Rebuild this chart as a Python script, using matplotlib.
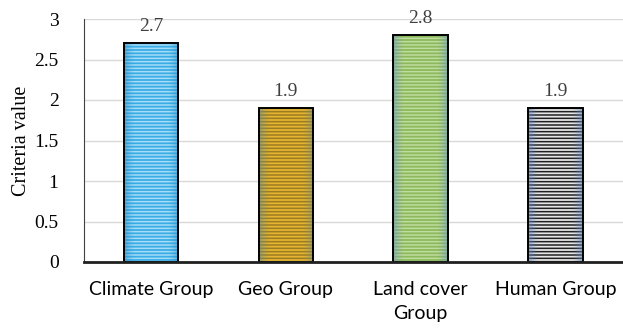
import matplotlib
matplotlib.use("Agg")
import matplotlib.pyplot as plt
import numpy as np
from matplotlib.colors import to_rgb

groups = ["Climate Group", "Geo Group", "Land cover\nGroup", "Human Group"]
values = [2.7, 1.9, 2.8, 1.9]
base_colors = ["#3AADE6", "#E4B432", "#8CB95C", "#E6E6E6"]
stripe_colors = ["#A6DCF7", "#9C7C1E", "#BFDD9E", "#202020"]
edge_tints = ["#2F8FC8", "#6E8C88", "#7096B8", "#5F86BE"]

plt.rcParams["hatch.linewidth"] = 1.1

fig = plt.figure(figsize=(6.23, 3.34), dpi=100)
ax = fig.add_axes([83.5 / 623, 1 - 262 / 334, (623 - 83.5) / 623, (262 - 19) / 334])

x = np.arange(len(groups))
w = 0.405
# fill + stripes, then a separate black outline on top
bars = ax.bar(x, values, w, color=base_colors, edgecolor=stripe_colors,
              hatch="-----", linewidth=0, zorder=2)
for b, sc in zip(bars, stripe_colors):
    b.set_edgecolor(sc)

# soft tint towards the left/right edge of each bar
for b, tint in zip(bars, edge_tints):
    r, g, bl = to_rgb(tint)
    t = np.linspace(-1, 1, 60)
    alpha = np.clip((np.abs(t) - 0.6) / 0.4, 0, 1) ** 1.5 * 0.65
    img = np.zeros((1, 60, 4))
    img[..., 0], img[..., 1], img[..., 2] = r, g, bl
    img[..., 3] = alpha
    x0, y0 = b.get_x(), b.get_y()
    im = ax.imshow(img, extent=[x0, x0 + b.get_width(), y0, y0 + b.get_height()],
                   aspect="auto", zorder=3, interpolation="bilinear")
    im.set_clip_path(b)

ax.bar(x, values, w, fill=False, edgecolor="black", linewidth=1.4, zorder=4)

for xi, v in zip(x, values):
    ax.text(xi, v + 0.1, f"{v:g}", ha="center", va="bottom",
            family="Liberation Serif", fontsize=14, color="#404040")

ax.set_xlim(-0.5, 3.5)
ax.set_ylim(0, 3)
ax.set_yticks(np.arange(0, 3.01, 0.5))
ax.set_yticklabels(["0", "0.5", "1", "1.5", "2", "2.5", "3"],
                   family="Liberation Serif", fontsize=14)
ax.set_xticks(x)
ax.set_xticklabels(groups, family="Lato", fontsize=14, linespacing=1.45)
ax.tick_params(axis="y", length=0, pad=18)
ax.tick_params(axis="x", length=0, pad=14)
ax.set_ylabel("Criteria value", family="Liberation Serif", fontsize=14.5, labelpad=2)

ax.grid(axis="y", color="#D9D9D9", linewidth=1, zorder=0)
ax.set_axisbelow(True)
for s in ["top", "right"]:
    ax.spines[s].set_visible(False)
ax.spines["left"].set_color("#404040")
ax.spines["left"].set_linewidth(0.8)
ax.spines["bottom"].set_color("#202020")
ax.spines["bottom"].set_linewidth(2)
ax.spines["bottom"].set_zorder(5)

fig.savefig("out.png", dpi=100)
